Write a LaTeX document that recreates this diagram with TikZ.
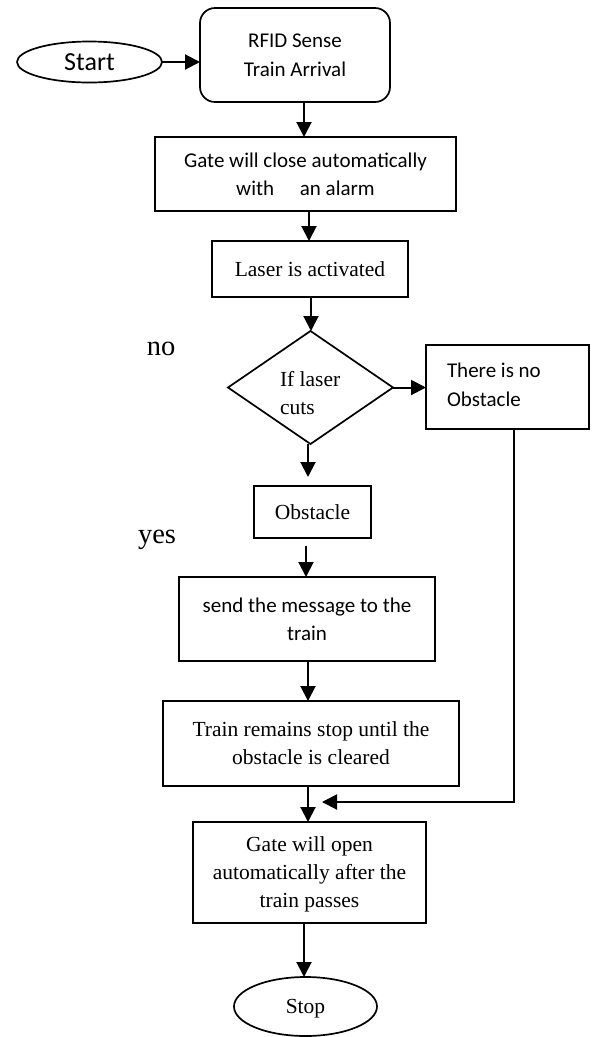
\documentclass[tikz,border=0pt]{standalone}
\usepackage{fontspec}
\setmainfont{Liberation Serif}
\newfontfamily\calib{Carlito}
\usetikzlibrary{shapes.geometric,arrows.meta}
\begin{document}
\begin{tikzpicture}[x=1pt,y=-1pt,
  every node/.style={inner sep=0pt,outer sep=0pt},
  base/.style={draw,line width=1.7pt,align=center,text depth=0pt},
  boxn/.style={base,rectangle},
  tnr/.style={font=\fontsize{21.5}{28}\selectfont},
  cal/.style={font=\calib\fontsize{21}{28.5}\selectfont},
  arr/.style={line width=2pt,-{Triangle[length=15pt,width=15pt]}},
  lbl/.style={font=\fontsize{28.5}{30}\selectfont}]
\useasboundingbox (0,0) rectangle (596,1037);
\node[base,ellipse,minimum width=145pt,minimum height=41pt,font=\calib\fontsize{26}{30}\selectfont] (start) at (89.5,62) {Start};
\node[boxn,rounded corners=15pt,minimum width=190pt,minimum height=94pt,cal] (rfid) at (295,55) {RFID Sense\\Train Arrival};
\node[boxn,minimum width=301pt,minimum height=74pt,cal] (gclose) at (305.5,174) {Gate will close automatically\\with\quad\ an alarm};
\node[boxn,minimum width=196pt,minimum height=56pt,tnr] (laser) at (310,269) {Laser is activated};
\node[base,diamond,minimum width=165pt,minimum height=113pt,aspect=1.46] (dec) at (310.5,387.5) {};
\node[tnr,align=left,anchor=west] (dectxt) at (280,393) {If laser\\cuts};
\node[boxn,minimum width=163pt,minimum height=84pt] (noobs) at (507.5,387) {};
\node[cal,align=left,anchor=west] (noobstxt) at (447,385) {There is no\\Obstacle};
\node[boxn,minimum width=117pt,minimum height=52pt,tnr] (obst) at (312.5,512) {Obstacle};
\node[boxn,minimum width=256pt,minimum height=84pt,cal] (send) at (307,619) {send the message to the\\train};
\node[boxn,minimum width=296pt,minimum height=85pt,tnr] (tstop) at (311,743.5) {Train remains stop until the\\obstacle is cleared};
\node[boxn,minimum width=233pt,minimum height=101pt,tnr] (gopen) at (309.5,872.5) {Gate will open\\automatically after the\\train passes};
\node[base,ellipse,minimum width=143pt,minimum height=59pt,tnr] (stop) at (305.5,1006.5) {Stop};
\node[lbl] (no) at (161,349) {no};
\node[lbl] (yes) at (157,540) {yes};
\coordinate (c1) at (513.5,802);
\coordinate (c2) at (322,802);
% connectors
\draw[arr] (start.east) -- (start.east -| rfid.west);
\draw[arr] (rfid.south -| 304,0) -- (gclose.north -| 304,0);
\draw[arr] (gclose.south -| 309,0) -- (laser.north -| 309,0);
\draw[arr] (laser.south -| 311,0) -- (dec.north -| 311,0);
\draw[arr] (dec.east) -- (dec.east -| noobs.west);
\draw[arr,shorten >=9pt] (dec.south -| 308,0) -- (obst.north -| 308,0);
\draw[arr,shorten <=8pt] (obst.south -| 306,0) -- (send.north -| 306,0);
\draw[arr] (send.south -| 308,0) -- (tstop.north -| 308,0);
\draw[arr] (tstop.south -| 308,0) -- (gopen.north -| 308,0);
\draw[arr] (noobs.south -| c1) -- (c1) -- (c2);
\draw[arr] (gopen.south -| 304,0) -- (stop.north -| 304,0);
\end{tikzpicture}
\end{document}
